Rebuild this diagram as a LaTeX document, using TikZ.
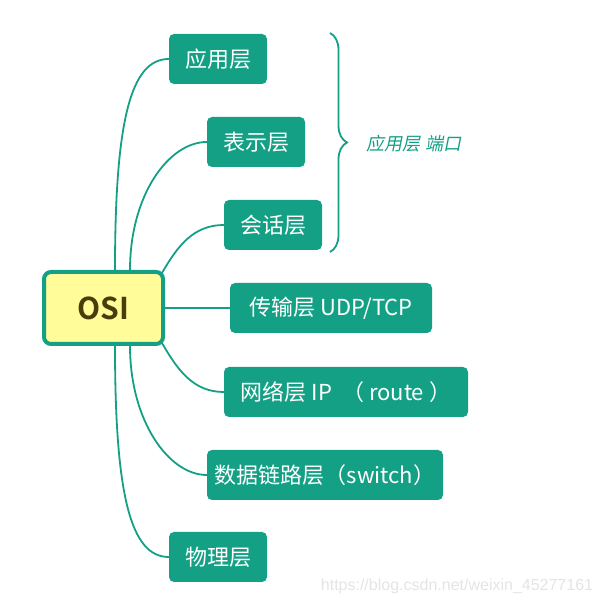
\documentclass[tikz,border=0pt]{standalone}
\usepackage{fontspec}
\setmainfont{Noto Sans CJK SC}[BoldFont={Noto Sans CJK SC Bold}]
\newfontfamily\cjkit[FakeSlant=0.2]{Noto Sans CJK SC}
\newfontfamily\wmfont{Liberation Sans}
\usetikzlibrary{decorations.pathreplacing}
\definecolor{teal}{RGB}{20,160,133}
\definecolor{osiyellow}{RGB}{255,252,153}
\definecolor{ositext}{RGB}{72,62,12}
\definecolor{wmgray}{RGB}{228,228,228}
\tikzset{
  layer/.style={fill=teal, text=white, rounded corners=5pt, minimum height=50pt,
    inner sep=0pt, font=\fontsize{22}{26}\selectfont},
  root/.style={fill=osiyellow, draw=teal, line width=4pt, rounded corners=7pt,
    minimum width=119pt, minimum height=72pt, text=ositext,
    font=\fontsize{30}{34}\selectfont\bfseries},
  link/.style={draw=teal, line width=1.8pt},
  bracestyle/.style={draw=teal, line width=1.8pt, decorate,
    decoration={brace, amplitude=17pt}}
}
\begin{document}
\begin{tikzpicture}[x=1pt,y=1pt]
\useasboundingbox (0,0) rectangle (601,605);
\node[root] (osi) at (103.5,297) {OSI};
\node[layer, minimum width=98pt] (app) at (218,546) {应用层};
\node[layer, minimum width=98pt] (pres) at (256,463) {表示层};
\node[layer, minimum width=98pt] (sess) at (273,380) {会话层};
\node[layer, minimum width=202pt] (trans) at (331,297) {传输层 UDP/TCP};
\node[layer, minimum width=244pt] (net) at (346,213) {网络层 IP \ （ route ）};
\node[layer, minimum width=236pt] (dl) at (325,130) {数据链路层（switch）};
\node[layer, minimum width=98pt] (phys) at (218,48) {物理层};
\coordinate (b1) at (330,572);
\coordinate (b2) at (330,353);
\draw[bracestyle] (b1) -- (b2);
\node[text=teal, font=\cjkit\fontsize{18}{21}\selectfont] (lbl) at (414,461) {应用层 端口};
\node[text=wmgray, font=\wmfont\fontsize{16}{19}\selectfont] (wm) at (457,19) {https://blog.csdn.net/weixin\_45277161};
\draw[link] ([xshift=73pt]osi.north west) to[out=90,in=180,out distance=150pt,in distance=38pt] (app.west);
\draw[link] ([xshift=88pt]osi.north west) to[out=90,in=180,out distance=75pt,in distance=38pt] (pres.west);
\draw[link] ([xshift=-3pt,yshift=-3pt]osi.north east) to[out=60,in=180] (sess.west);
\draw[link] (osi.east) -- (trans.west);
\draw[link] ([xshift=-3pt,yshift=3pt]osi.south east) to[out=-60,in=180] (net.west);
\draw[link] ([xshift=88pt]osi.south west) to[out=-90,in=180,out distance=75pt,in distance=38pt] (dl.west);
\draw[link] ([xshift=73pt]osi.south west) to[out=-90,in=180,out distance=150pt,in distance=38pt] (phys.west);
\end{tikzpicture}
\end{document}
